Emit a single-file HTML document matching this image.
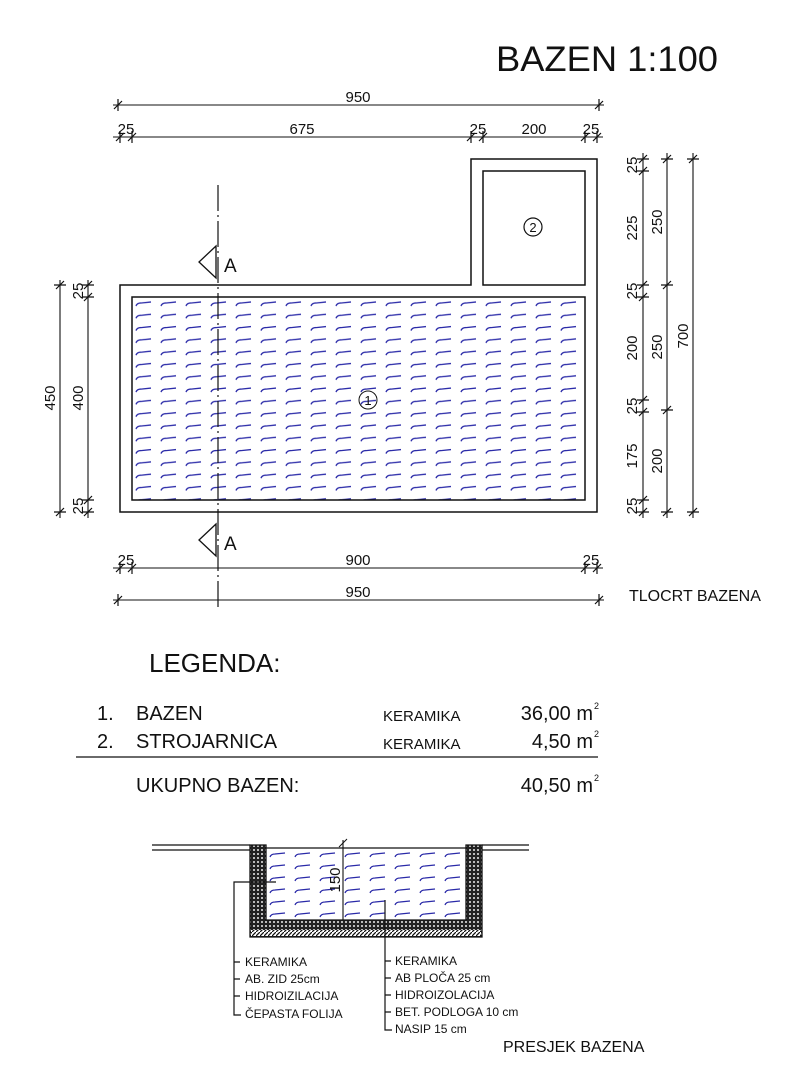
<!DOCTYPE html>
<html><head><meta charset="utf-8"><style>
html,body{margin:0;padding:0;background:#fff;}
svg{display:block;}
text{font-family:"Liberation Sans",sans-serif;fill:#111;}
</style></head><body>
<svg width="811" height="1080" viewBox="0 0 811 1080" xmlns="http://www.w3.org/2000/svg">
<defs>
<pattern id="w" x="132" y="297" width="25" height="12.3" patternUnits="userSpaceOnUse">
<path d="M4 9 Q5 6 9 6 L19 5" stroke="#2a2aa8" stroke-width="1.3" fill="none"/>
</pattern>
<pattern id="w2" x="266" y="848" width="25" height="12" patternUnits="userSpaceOnUse">
<path d="M4 9 Q5 6 9 6 L19 5" stroke="#2a2aa8" stroke-width="1.2" fill="none"/>
</pattern>
<pattern id="x" width="4" height="4" patternUnits="userSpaceOnUse">
<rect width="4" height="4" fill="#222"/><rect x="1" y="1" width="2" height="2" fill="#bbb"/>
</pattern>
<pattern id="d" width="4" height="4" patternUnits="userSpaceOnUse">
<rect width="4" height="4" fill="#fff"/><path d="M0 4 L4 0" stroke="#111" stroke-width="1.3"/>
</pattern>
</defs>
<text x="496" y="71" font-size="35" textLength="222" lengthAdjust="spacingAndGlyphs">BAZEN 1:100</text>

<path d="M120 285 H471 V159 H597 V512 H120 Z" stroke="#111" stroke-width="1.5" fill="none"/>
<rect x="483" y="171" width="102" height="114" stroke="#111" stroke-width="1.5" fill="none"/>
<rect x="132" y="297" width="453" height="203" fill="url(#w)" stroke="#111" stroke-width="1.5"/>
<circle cx="533" cy="227" r="9" stroke="#111" fill="#fff" stroke-width="1.2"/>
<text x="533" y="232" font-size="13" text-anchor="middle">2</text>
<circle cx="368" cy="400" r="9" stroke="#111" fill="none" stroke-width="1"/>
<text x="368" y="405" font-size="13" text-anchor="middle">1</text>

<line x1="218" y1="185" x2="218" y2="610" stroke="#111" stroke-width="1.2" stroke-dasharray="26,4,2,4"/>
<path d="M216 246 L199 262 L216 278 Z" fill="none" stroke="#111" stroke-width="1.3"/>
<text x="224" y="272" font-size="19">A</text>
<path d="M216 524 L199 540 L216 556 Z" fill="none" stroke="#111" stroke-width="1.3"/>
<text x="224" y="550" font-size="19">A</text>

<g stroke="#111" stroke-width="1.1">
<line x1="113" y1="105" x2="604" y2="105"/>
<line x1="113" y1="137" x2="603" y2="137"/>
<line x1="113" y1="568" x2="603" y2="568"/>
<line x1="113" y1="600" x2="604" y2="600"/>
<line x1="643" y1="153" x2="643" y2="518"/>
<line x1="667" y1="153" x2="667" y2="518"/>
<line x1="693" y1="153" x2="693" y2="518"/>
<line x1="60" y1="280" x2="60" y2="518"/>
<line x1="88" y1="280" x2="88" y2="518"/>
</g>
<g stroke="#111" stroke-width="1.2">
<path d="M118 99v12M114 109l8-8 M599 99v12M595 109l8-8"/>
<path d="M120 131v12M116 141l8-8 M132 131v12M128 141l8-8 M471 131v12M467 141l8-8 M483 131v12M479 141l8-8 M585 131v12M581 141l8-8 M597 131v12M593 141l8-8"/>
<path d="M120 562v12M116 572l8-8 M132 562v12M128 572l8-8 M585 562v12M581 572l8-8 M597 562v12M593 572l8-8"/>
<path d="M118 594v12M114 604l8-8 M599 594v12M595 604l8-8"/>
<path d="M637 159h12M639 163l8-8 M637 171h12M639 175l8-8 M637 285h12M639 289l8-8 M637 297h12M639 301l8-8 M637 400h12M639 404l8-8 M637 412h12M639 416l8-8 M637 500h12M639 504l8-8 M637 512h12M639 516l8-8"/>
<path d="M661 159h12M663 163l8-8 M661 285h12M663 289l8-8 M661 410h12M663 414l8-8 M661 512h12M663 516l8-8"/>
<path d="M687 159h12M689 163l8-8 M687 512h12M689 516l8-8"/>
<path d="M54 285h12M56 289l8-8 M54 512h12M56 516l8-8"/>
<path d="M82 285h12M84 289l8-8 M82 297h12M84 301l8-8 M82 500h12M84 504l8-8 M82 512h12M84 516l8-8"/>
</g>
<g font-size="15" text-anchor="middle">
<text x="358" y="102">950</text>
<text x="126" y="134">25</text>
<text x="302" y="134">675</text>
<text x="478" y="134">25</text>
<text x="534" y="134">200</text>
<text x="591" y="134">25</text>
<text x="126" y="565">25</text>
<text x="358" y="565">900</text>
<text x="591" y="565">25</text>
<text x="358" y="597">950</text>
</g>
<g font-size="15" text-anchor="middle">
<text transform="translate(637,165) rotate(-90)">25</text>
<text transform="translate(637,228) rotate(-90)">225</text>
<text transform="translate(637,291) rotate(-90)">25</text>
<text transform="translate(637,348) rotate(-90)">200</text>
<text transform="translate(637,406) rotate(-90)">25</text>
<text transform="translate(637,456) rotate(-90)">175</text>
<text transform="translate(637,506) rotate(-90)">25</text>
<text transform="translate(662,222) rotate(-90)">250</text>
<text transform="translate(662,347) rotate(-90)">250</text>
<text transform="translate(662,461) rotate(-90)">200</text>
<text transform="translate(688,336) rotate(-90)">700</text>
<text transform="translate(55,398) rotate(-90)">450</text>
<text transform="translate(83,291) rotate(-90)">25</text>
<text transform="translate(83,398) rotate(-90)">400</text>
<text transform="translate(83,506) rotate(-90)">25</text>
</g>
<text x="629" y="601" font-size="16">TLOCRT BAZENA</text>

<text x="149" y="672" font-size="26">LEGENDA:</text>
<g font-size="20">
<text x="97" y="720">1.</text><text x="136" y="720">BAZEN</text>
<text x="97" y="748">2.</text><text x="136" y="748">STROJARNICA</text>
<text x="136" y="792">UKUPNO BAZEN:</text>
</g>
<g font-size="15">
<text x="383" y="721">KERAMIKA</text>
<text x="383" y="749">KERAMIKA</text>
</g>
<g font-size="20" text-anchor="end">
<text x="593" y="720">36,00 m</text>
<text x="593" y="748">4,50 m</text>
<text x="593" y="792">40,50 m</text>
</g>
<g font-size="9"><text x="594" y="709">2</text><text x="594" y="737">2</text><text x="594" y="781">2</text></g>
<line x1="76" y1="757" x2="598" y2="757" stroke="#111" stroke-width="1.3"/>

<g stroke="#111" stroke-width="1.2">
<line x1="152" y1="845" x2="250" y2="845"/>
<line x1="152" y1="850" x2="250" y2="850"/>
<line x1="482" y1="845" x2="529" y2="845"/>
<line x1="482" y1="850" x2="529" y2="850"/>
<line x1="266" y1="848" x2="466" y2="848"/>
</g>
<path d="M250 845 H266 V920 H466 V845 H482 V937 H250 Z" fill="url(#x)" stroke="#111" stroke-width="1.3"/>
<rect x="251" y="930" width="230" height="6" fill="url(#d)"/>
<rect x="266" y="849" width="200" height="71" fill="url(#w2)"/>
<line x1="343" y1="840" x2="343" y2="920" stroke="#111" stroke-width="1.1"/>
<path d="M339 847l8-8" stroke="#111"/>
<text transform="translate(340,880) rotate(-90)" font-size="15" text-anchor="middle">150</text>
<g stroke="#111" stroke-width="1.2" fill="none">
<path d="M276 882 H234 V1015 H241"/>
<path d="M234 962h6 M234 979h6 M234 996h6"/>
<path d="M385 900 V1030 H392"/>
<path d="M385 961h6 M385 978h6 M385 995h6 M385 1012h6"/>
</g>
<g font-size="12">
<text x="245" y="966">KERAMIKA</text>
<text x="245" y="983">AB. ZID 25cm</text>
<text x="245" y="1000">HIDROIZILACIJA</text>
<text x="245" y="1018">ČEPASTA FOLIJA</text>
<text x="395" y="965">KERAMIKA</text>
<text x="395" y="982">AB PLOČA 25 cm</text>
<text x="395" y="999">HIDROIZOLACIJA</text>
<text x="395" y="1016">BET. PODLOGA 10 cm</text>
<text x="395" y="1033">NASIP 15 cm</text>
</g>
<text x="503" y="1052" font-size="16">PRESJEK BAZENA</text>
</svg>
</body></html>
